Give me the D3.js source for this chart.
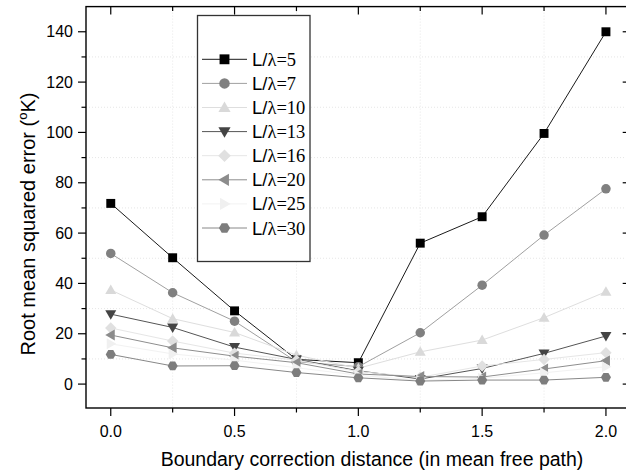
<!DOCTYPE html>
<html><head><meta charset="utf-8">
<script src="https://cdn.jsdelivr.net/npm/d3@7"></script>
<style>html,body{margin:0;padding:0;background:#fff;}svg{display:block;}</style>
</head><body>
<svg id="chart" width="626" height="472"></svg>
<script>
const xValues = [0, 0.25, 0.5, 0.75, 1.0, 1.25, 1.5, 1.75, 2.0];
const seriesNames = ["5", "7", "10", "13", "16", "20", "25", "30"];
const L5  = [71.8, 50.2, 29.1, 9.8, 8.5, 56.0, 66.5, 99.6, 140.0];
const L7  = [51.9, 36.3, 25.0, 8.9, 6.9, 20.4, 39.3, 59.2, 77.6];
const L10 = [37.4, 26.0, 20.5, 11.5, 6.3, 12.8, 17.5, 26.4, 36.7];
const L13 = [27.8, 22.5, 14.7, 9.8, 5.3, 2.0, 6.2, 12.2, 19.1];
const L16 = [22.3, 17.1, 12.3, 9.5, 5.0, 2.7, 7.2, 9.8, 12.5];
const L20 = [19.5, 14.4, 11.1, 8.5, 4.0, 3.0, 2.8, 6.0, 9.3];
const L25 = [16.0, 12.0, 9.5, 6.5, 3.5, 1.5, 2.3, 4.5, 6.9];
const L30 = [11.8, 7.2, 7.3, 4.6, 2.5, 1.2, 1.6, 1.6, 2.7];
const xTicks = [0, 0.5, 1.0, 1.5, 2.0];
const yTicks = [0, 20, 40, 60, 80, 100, 120, 140];
const xTitle = "Boundary correction distance (in mean free path)";

const seriesValues = [L5, L7, L10, L13, L16, L20, L25, L30];
const styles = [
  {shape: "square",  fill: "#000000", line: "#1a1a1a"},
  {shape: "circle",  fill: "#808080", line: "#a0a0a0"},
  {shape: "up",      fill: "#d9d9d9", line: "#dedede"},
  {shape: "down",    fill: "#444444", line: "#555555"},
  {shape: "diamond", fill: "#e0e0e0", line: "#e6e6e6"},
  {shape: "left",    fill: "#8c8c8c", line: "#8e8e8e"},
  {shape: "right",   fill: "#f0f0f0", line: "#f2f2f2"},
  {shape: "hex",     fill: "#7d7d7d", line: "#888888"}
];

const svg = d3.select("#chart");
const pL = 86, pR = 630.7, pT = 6.6, pB = 408;
const x = d3.scaleLinear().domain([-0.1, 2.1]).range([pL, pR]);
const y = d3.scaleLinear().domain([-9.5, 150]).range([pB, pT]);

// grid at minor positions
const gx = [0.25, 0.75, 1.25, 1.75];
const gy = d3.range(10, 150, 20);
const grid = svg.append("g").attr("stroke", "#e6e6e6").attr("stroke-width", 1).attr("stroke-dasharray", "1,2");
grid.selectAll("line.gx").data(gx).join("line").attr("class", "gx").attr("x1", d => x(d)).attr("x2", d => x(d)).attr("y1", pT).attr("y2", pB);
grid.selectAll("line.gy").data(gy).join("line").attr("class", "gy").attr("y1", d => y(d)).attr("y2", d => y(d)).attr("x1", pL).attr("x2", pR);

function shapePath(shape, s) {
  switch (shape) {
    case "square": return `M${-s*0.47},${-s*0.47}h${s*0.94}v${s*0.94}h${-s*0.94}Z`;
    case "up": return `M0,${-s*0.58}L${s*0.58},${s*0.42}L${-s*0.58},${s*0.42}Z`;
    case "down": return `M0,${s*0.58}L${s*0.58},${-s*0.42}L${-s*0.58},${-s*0.42}Z`;
    case "left": return `M${-s*0.58},0L${s*0.42},${-s*0.58}L${s*0.42},${s*0.58}Z`;
    case "right": return `M${s*0.58},0L${-s*0.42},${-s*0.58}L${-s*0.42},${s*0.58}Z`;
    case "diamond": return `M0,${-s*0.6}L${s*0.6},0L0,${s*0.6}L${-s*0.6},0Z`;
    case "hex": {
      const r = s*0.53; let p = "";
      for (let i = 0; i < 6; i++) { const a = Math.PI/3*i; p += (i ? "L" : "M") + (r*Math.cos(a)).toFixed(2) + "," + (r*Math.sin(a)).toFixed(2); }
      return p + "Z";
    }
  }
  return "";
}
function drawMarker(g, st, cx, cy, s) {
  if (st.shape === "circle") g.append("circle").attr("cx", cx).attr("cy", cy).attr("r", s*0.5).attr("fill", st.fill);
  else g.append("path").attr("d", shapePath(st.shape, s)).attr("transform", `translate(${cx},${cy})`).attr("fill", st.fill);
}

const line = d3.line().x(d => x(d[0])).y(d => y(d[1]));
const plot = svg.append("g");
seriesValues.forEach((vals, i) => {
  const st = styles[i];
  const pts = xValues.map((xv, j) => [xv, vals[j]]);
  const g = plot.append("g");
  g.append("path").attr("d", line(pts)).attr("fill", "none").attr("stroke", st.line).attr("stroke-width", 1);
  pts.forEach(p => drawMarker(g, st, x(p[0]), y(p[1]), 9.5));
});

// frame
svg.append("rect").attr("x", pL).attr("y", pT).attr("width", pR-pL).attr("height", pB-pT)
  .attr("fill", "none").attr("stroke", "#000").attr("stroke-width", 1.4);

// ticks
const xMinor = [0.25, 0.75, 1.25, 1.75];
const yMinor = d3.range(10, 150, 20);
const tk = svg.append("g").attr("stroke", "#000").attr("stroke-width", 1.2);
xTicks.forEach(v => {
  tk.append("line").attr("x1", x(v)).attr("x2", x(v)).attr("y1", pB).attr("y2", pB+8);
  tk.append("line").attr("x1", x(v)).attr("x2", x(v)).attr("y1", pT).attr("y2", pT+8);
});
xMinor.forEach(v => {
  tk.append("line").attr("x1", x(v)).attr("x2", x(v)).attr("y1", pB).attr("y2", pB+4.5);
  tk.append("line").attr("x1", x(v)).attr("x2", x(v)).attr("y1", pT).attr("y2", pT+4.5);
});
yTicks.forEach(v => {
  tk.append("line").attr("y1", y(v)).attr("y2", y(v)).attr("x1", pL).attr("x2", pL-8);
  tk.append("line").attr("y1", y(v)).attr("y2", y(v)).attr("x1", pR).attr("x2", pR-8);
});
yMinor.forEach(v => {
  tk.append("line").attr("y1", y(v)).attr("y2", y(v)).attr("x1", pL).attr("x2", pL-4.5);
  tk.append("line").attr("y1", y(v)).attr("y2", y(v)).attr("x1", pR).attr("x2", pR-4.5);
});

const font = "Liberation Sans, Arial, sans-serif";
svg.append("g").selectAll("text").data(xTicks).join("text")
  .attr("x", d => x(d)).attr("y", 437).attr("text-anchor", "middle")
  .attr("font-family", font).attr("font-size", 16).text(d => d.toFixed(1));
svg.append("g").selectAll("text").data(yTicks).join("text")
  .attr("x", 73).attr("y", d => y(d) + 5.5).attr("text-anchor", "end")
  .attr("font-family", font).attr("font-size", 16).text(d => d);

svg.append("text").attr("x", 372).attr("y", 466).attr("text-anchor", "middle")
  .attr("font-family", font).attr("font-size", 19.5).text(xTitle);

const yt = svg.append("text").attr("transform", "translate(35,224) rotate(-90)").attr("text-anchor", "middle")
  .attr("font-family", font).attr("font-size", 20);
yt.append("tspan").text("Root mean squared error (");
yt.append("tspan").attr("font-size", 13).attr("dy", -8).text("o");
yt.append("tspan").attr("dy", 8).text("K)");

// legend
const lg = svg.append("g");
lg.append("rect").attr("x", 197.5).attr("y", 15.5).attr("width", 112.5).attr("height", 246)
  .attr("fill", "#fff").attr("stroke", "#333").attr("stroke-width", 1.3);
seriesNames.forEach((nm, i) => {
  const st = styles[i];
  const cy = 59.3 + i * 24.1;
  lg.append("line").attr("x1", 202).attr("x2", 247).attr("y1", cy).attr("y2", cy).attr("stroke", st.line).attr("stroke-width", 1);
  drawMarker(lg, st, 224.5, cy, 10.5);
  const t = lg.append("text").attr("x", 252).attr("y", cy + 6.5).attr("font-size", 18.5);
  t.append("tspan").attr("font-family", font).text("L/");
  t.append("tspan").attr("font-family", "Liberation Serif, Times New Roman, serif").text("λ=" + nm);
});
</script>
</body></html>
